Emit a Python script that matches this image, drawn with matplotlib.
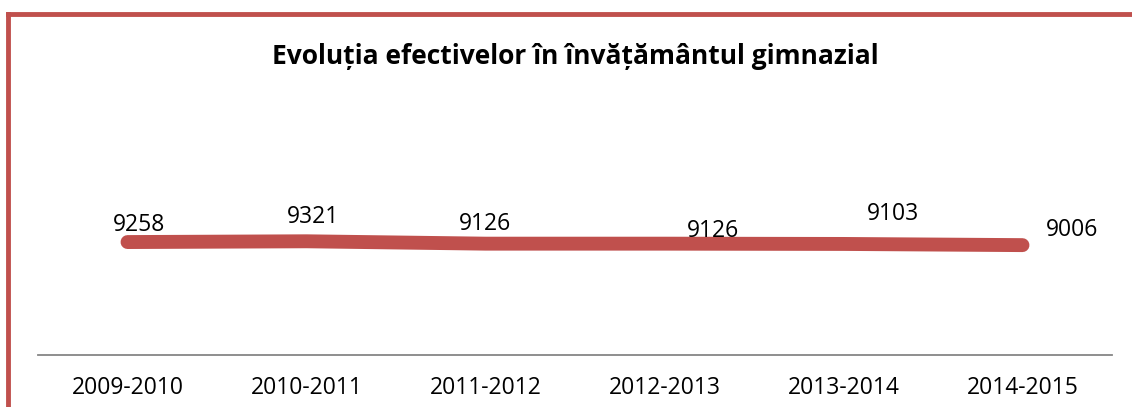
import matplotlib
matplotlib.use("Agg")
import matplotlib.pyplot as plt
from matplotlib.lines import Line2D

years = ["2009-2010", "2010-2011", "2011-2012", "2012-2013", "2013-2014", "2014-2015"]
pupils = [9258, 9321, 9126, 9126, 9103, 9006]
# label offsets (pixels) relative to each point, as placed in the original
label_dx = [12, 6, 0, 48, 50, 50]
label_dy = [17, 24, 20, 13, 30, 15]

RED = "#C0504D"
plt.rcParams["font.family"] = ["Open Sans", "DejaVu Sans"]

fig = plt.figure(figsize=(11.32, 4.07), dpi=100)
ax = fig.add_axes([38 / 1132, 52 / 407, 1074 / 1132, 244 / 407])

xs = list(range(len(years)))
ax.plot(xs, pupils, color=RED, lw=10, solid_capstyle="round", solid_joinstyle="round")
for x, y, dx, dy in zip(xs, pupils, label_dx, label_dy):
    ax.annotate(str(y), (x, y), xytext=(dx, dy), textcoords="offset pixels",
                ha="center", va="center", fontsize=16.5)

ax.set_xlim(-0.5, len(years) - 0.5)
ax.set_ylim(0, 20000)
ax.set_xticks(xs)
ax.set_xticklabels(years, fontsize=16.5)
ax.tick_params(axis="x", length=0, pad=15)
ax.set_yticks([])
for side in ["top", "right", "left"]:
    ax.spines[side].set_visible(False)
ax.spines["bottom"].set_color("#868686")
ax.spines["bottom"].set_linewidth(1.3)

fig.text(0.508, (407 - 57) / 407, "Evoluția efectivelor în învățământul gimnazial",
         ha="center", va="center", fontsize=19, fontweight="bold")

# chart frame border (left and top edges visible)
fy = (407 - 14) / 407
fx = 8 / 1132
fig.add_artist(Line2D([fx, fx], [0, fy], color=RED, lw=3.5, transform=fig.transFigure))
fig.add_artist(Line2D([fx, 1], [fy, fy], color=RED, lw=3.5, transform=fig.transFigure))

fig.savefig("out.png", dpi=100)
